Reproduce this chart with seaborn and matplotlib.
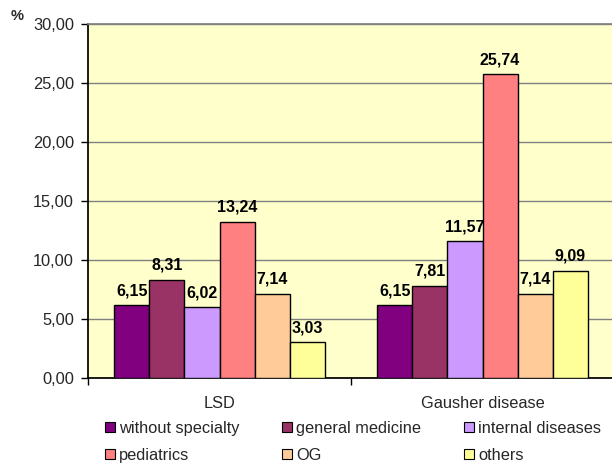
import numpy as np
import pandas as pd
import matplotlib
matplotlib.use("Agg")
import matplotlib.pyplot as plt
import seaborn as sns
from matplotlib.patches import Patch

groups = ["LSD", "Gausher disease"]
specialties = ["without specialty", "general medicine", "internal diseases",
               "pediatrics", "OG", "others"]
lsd_values = [6.15, 8.31, 6.02, 13.24, 7.14, 3.03]
gausher_values = [6.15, 7.81, 11.57, 25.74, 7.14, 9.09]
colors = ["#800080", "#993366", "#CC99FF", "#FF8080", "#FFCC99", "#FFFF99"]
y_ticks = [0, 5, 10, 15, 20, 25, 30]

rows = []
for grp, vals in zip(groups, [lsd_values, gausher_values]):
    for spec, v in zip(specialties, vals):
        rows.append({"group": grp, "specialty": spec, "value": v})
df = pd.DataFrame(rows)

sns.set_theme(style="white")
plt.rcParams["font.family"] = ["Liberation Sans", "DejaVu Sans"]

fig = plt.figure(figsize=(6.12, 4.63), dpi=100)
ax = fig.add_axes([88 / 612, 1 - 378 / 463, 526 / 612, 354 / 463])
ax.set_facecolor("#FFFFCC")

sns.barplot(data=df, x="group", y="value", hue="specialty", order=groups,
            hue_order=specialties, palette=colors, width=0.8,
            edgecolor="black", linewidth=1.0, saturation=1, errorbar=None,
            ax=ax, legend=False, zorder=3)

ax.set_ylim(0, 30)
ax.set_xlim(-0.5, 1.5)
ax.set_yticks(y_ticks)
ax.set_yticklabels([f"{t:.2f}".replace(".", ",") for t in y_ticks], fontsize=11.8)
ax.yaxis.grid(True, color="#808080", linewidth=1.0, zorder=0)
ax.set_axisbelow(True)

# category boundary ticks on x, labels at category centres
ax.set_xticks([-0.5, 0.5, 1.5])
ax.set_xticklabels([])
ax.set_xticks([0, 1], minor=True)
ax.set_xticklabels(groups, minor=True, fontsize=11.8)
ax.tick_params(axis="x", which="minor", length=0, pad=13)
ax.tick_params(axis="x", which="major", direction="out", length=5, width=1,
               color="black", bottom=True)
ax.tick_params(axis="y", direction="out", length=5, width=1, color="black",
               left=True, pad=5)

ax.spines["right"].set_visible(False)
ax.spines["top"].set_color("#808080")
ax.spines["left"].set_color("black")
ax.spines["bottom"].set_color("black")
ax.set_xlabel("")
ax.set_ylabel("")

for container in ax.containers:
    labels = [f"{b.get_height():.2f}".replace(".", ",") for b in container]
    ax.bar_label(container, labels=labels, padding=5, fontsize=11.5,
                 fontweight="bold", color="black")

fig.text(11 / 612, 1 - 16 / 463, "%", fontsize=10.5, fontweight="bold",
         va="center", ha="left")

handles = [Patch(facecolor=c, edgecolor="black", linewidth=0.8) for c in colors]
order = [0, 3, 1, 4, 2, 5]
fig.legend([handles[i] for i in order], [specialties[i] for i in order],
           ncol=3, loc="upper left", bbox_to_anchor=(105 / 612, 1 - 421 / 463),
           frameon=False, fontsize=11.8, handlelength=0.61, handleheight=0.61,
           handletextpad=0.25, columnspacing=2.6, labelspacing=0.73,
           borderpad=0, borderaxespad=0)

fig.savefig("out.png", dpi=100)
